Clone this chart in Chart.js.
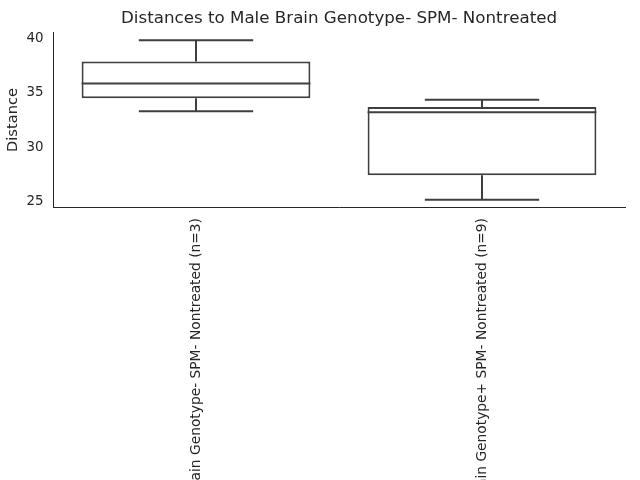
<!DOCTYPE html>
<html><head><meta charset="utf-8">
<script src="https://cdn.jsdelivr.net/npm/chart.js@4"></script>
<style>html,body{margin:0;padding:0;background:#fff;}#wrap{width:640px;height:480px;}</style>
</head><body><div id="wrap"><canvas id="c" width="640" height="480"></canvas></div>
<script>
const categories = ["Male Brain Genotype- SPM- Nontreated (n=3)", "Male Brain Genotype+ SPM- Nontreated (n=9)"];
const whiskerLow = [33.3, 25.2];
const q1 = [34.5, 27.45];
const median = [35.85, 33.2];
const q3 = [37.85, 33.7];
const whiskerHigh = [39.8, 34.35];
const yTicks = [25, 30, 35, 40];

const LINE = '#3f3f3f';
const TEXT = '#262626';
const FONT = 'DejaVu Sans';

const boxPlugin = {
  id: 'boxWhiskers',
  afterLayout(chart) {
    // center the title over the plot area (as matplotlib does)
    const t = chart.titleBlock, a = chart.chartArea;
    if (t && a) { t.left = a.left; t.right = a.right; t.width = a.right - a.left; }
  },
  afterDatasetsDraw(chart) {
    const ctx = chart.ctx, x = chart.scales.x, y = chart.scales.y;
    const meta = chart.getDatasetMeta(0);
    ctx.save();
    ctx.strokeStyle = LINE;
    ctx.lineWidth = 2;
    ctx.lineCap = 'butt';
    categories.forEach((c, i) => {
      const bar = meta.data[i];
      const cx = x.getPixelForValue(i);
      const half = bar.width / 2;
      const capHalf = half / 2;
      const yl = y.getPixelForValue(whiskerLow[i]);
      const yq1 = y.getPixelForValue(q1[i]);
      const ym = y.getPixelForValue(median[i]);
      const yq3 = y.getPixelForValue(q3[i]);
      const yh = y.getPixelForValue(whiskerHigh[i]);
      ctx.beginPath();
      ctx.moveTo(cx, yq1); ctx.lineTo(cx, yl);
      ctx.moveTo(cx, yq3); ctx.lineTo(cx, yh);
      ctx.moveTo(cx - capHalf, yl); ctx.lineTo(cx + capHalf, yl);
      ctx.moveTo(cx - capHalf, yh); ctx.lineTo(cx + capHalf, yh);
      ctx.moveTo(cx - half, ym); ctx.lineTo(cx + half, ym);
      ctx.stroke();
    });
    ctx.restore();
  }
};

new Chart(document.getElementById('c'), {
  type: 'bar',
  data: {
    labels: categories,
    datasets: [{
      data: categories.map((c, i) => [q1[i], q3[i]]),
      backgroundColor: '#ffffff',
      borderColor: LINE,
      borderWidth: 2,
      borderSkipped: false,
      barPercentage: 0.8,
      categoryPercentage: 1.0
    }]
  },
  options: {
    responsive: false,
    animation: false,
    devicePixelRatio: 1,
    layout: { padding: { left: 0, right: 15, top: 0, bottom: 0 } },
    plugins: {
      legend: { display: false },
      tooltip: { enabled: false },
      title: {
        display: true,
        text: 'Distances to Male Brain Genotype- SPM- Nontreated',
        color: TEXT,
        font: { family: FONT, size: 16.7, weight: 'normal' },
        padding: { top: 9, bottom: 3 }
      }
    },
    scales: {
      x: {
        grid: { display: false, drawTicks: false },
        border: { display: true, color: TEXT, width: 1 },
        ticks: {
          color: TEXT,
          font: { family: FONT, size: 13.8 },
          minRotation: 90, maxRotation: 90,
          autoSkip: false,
          padding: 10
        },
        afterFit(scale) { scale.height = 272; }
      },
      y: {
        min: 24.45,
        max: 40.55,
        grid: { display: false, drawTicks: false },
        border: { display: true, color: TEXT, width: 1 },
        afterBuildTicks(scale) { scale.ticks = yTicks.map(v => ({ value: v })); },
        ticks: {
          color: TEXT,
          font: { family: FONT, size: 13.4 },
          padding: 9.5
        },
        title: {
          display: true,
          text: 'Distance',
          color: TEXT,
          font: { family: FONT, size: 14.6 },
          padding: { top: 4, bottom: 0 }
        },
        afterFit(scale) { scale.width = 53; }
      }
    }
  },
  plugins: [boxPlugin]
});
</script></body></html>
